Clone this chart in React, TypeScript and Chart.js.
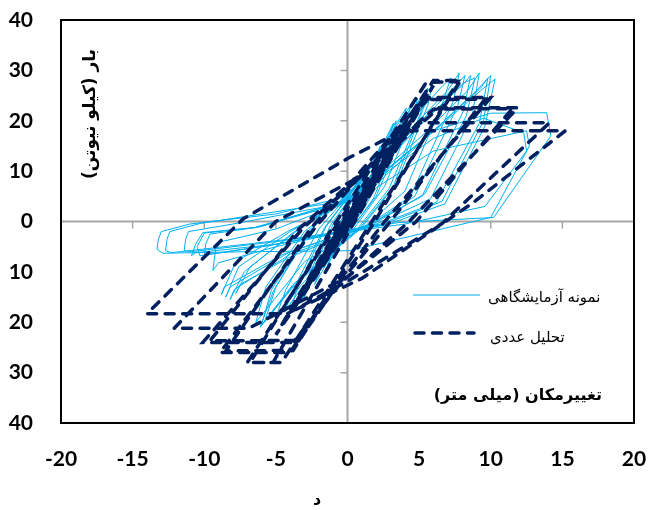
import React, { useEffect, useRef } from 'react';
import { Chart, registerables } from 'chart.js';

Chart.register(...registerables);

// Axis ranges and ticks
const xMin = -20;
const xMax = 20;
const xStep = 5;
const yMin = -40;
const yMax = 40;
const yStep = 10;

// Texts
const yTitle = 'بار (کیلو نیوتن)';
const xTitle = 'تغییرمکان (میلی متر)';
const bottomTitle = 'د';
const expLabel = 'نمونه آزمایشگاهی';
const numLabel = 'تحلیل عددی';

// Experimental specimen (displacement mm, load kN), one line per cycle
const expDisp = [
  0, 0.5, 1.0, 0.7, 0.1, -0.4, -0.9, -0.6, 0,
  0.7, 1.6, 1.2, 0.3, -0.5, -1.5, -1.1, -0.2,
  1, 2.3, 1.9, 0.6, -0.7, -2.3, -1.9, -0.6,
  0.9, 2.6, 3.2, 2.8, 1.2, -0.7, -2.5, -3.1, -2.6, -1,
  0.8, 2.7, 3.4, 3.0, 1.4, -0.6, -2.7, -3.3, -2.8, -1.2,
  1, 3, 4.1, 3.7, 1.8, -0.5, -3, -4, -3.4, -1.5,
  0.9, 3.2, 4.4, 4.0, 2.0, -0.4, -3.3, -4.4, -3.7, -1.6,
  1, 3.6, 4.9, 4.5, 2.6, 0.3, -3.2, -5, -4.3, -2,
  0.6, 4, 5.6, 5.3, 3.2, 0.8, -3.6, -5.8, -5, -2.5,
  0.5, 4.1, 5.9, 5.6, 3.4, 0.9, -3.8, -6.0, -5.3, -2.6,
  0.4, 3.8, 5.4, 5.1, 2.9, 0.6, -3.8, -6.1, -5.2, -2.7,
  0.2, 4.3, 6.5, 7.2, 6.7, 4, 1.2, -3, -6.4, -5.7, -3,
  0, 4.6, 7, 7.8, 7.4, 4.4, 1.3, -4, -7.5, -7.8, -6.8, -3.6,
  0.3, 4.8, 7.4, 8.2, 7.7, 4.7, 1.4, -4, -7.9, -8.2, -7.2, -3.8,
  0.4, 5, 8, 8.6, 8.1, 5.2, 1.6, -4, -8.2, -8.5, -7.6, -4,
  0.6, 5.2, 8.1, 8.9, 8.3, 5.4, 1.8, -4.5, -8.6, -8.8, -7.8, -4.2,
  0, 5.2, 8.4, 9.2, 8.7, 5.8, 2, -5, -9.0, -9.4, -9.2, -8.8, -5,
  0, 6, 9, 10, 9.5, 6.6, 2.6, -5, -9.6, -10, -9.9, -9.6, -6,
  0.2, 6.3, 9.3, 10.3, 9.6, 6.8, 2.8, -5.5, -10.3, -10.5, -10, -6.4,
  0.2, 6.2, 9.3, 9.8, 9.2, 6.2, 2.3, -5, -10.6, -10.9, -10.6, -10.1, -6.5,
  0, 6, 9.5, 12.3, 12.5, 9.6, 4, -5, -10.9, -11.4, -11.3, -11.1, -8,
  0.8, 6, 10, 13.9, 14.2, 10.2, 3.6, -4, -12.3, -12.7, -12.6, -12.4, -10.3,
  0.8, 6, 12.5, 12.7, 10, 0.1, -7, -12.9, -13.3, -13.2, -13, -11, -5, 0,
];
const expLoad = [
  0, 3.5, 7, 5, 1, -2.5, -6, -4, -0.5,
  5, 11, 8, 1.5, -3.5, -9.5, -6.5, 0,
  7, 15, 11, 2, -4.5, -12.5, -9.5, -0.5,
  7, 16, 19.5, 15, 3.5, -5, -12, -15.5, -11, -0.5,
  7, 16.5, 20, 15.5, 3.8, -5, -12.5, -16, -11.5, -0.8,
  8, 17.5, 22.5, 18, 4.5, -4.5, -13, -17.5, -12.5, -1,
  8, 18, 23, 18.5, 5, -4, -13.5, -18, -13, -1.2,
  8.5, 19, 24.5, 20.5, 7, -2, -12.5, -19, -13.5, -1.5,
  7, 20, 26.5, 22.5, 7, -1.5, -12, -20, -13, -1.5,
  7, 20.5, 27, 23, 7.5, -1.5, -12.5, -20.5, -13.5, -1.8,
  6.5, 19, 25.5, 21.5, 6.5, -1.8, -13, -21, -14, -1.8,
  6, 19.5, 26.5, 28.5, 24, 6, -1, -8, -20, -13, -2,
  5, 19, 26, 29.5, 24, 5, -1, -7, -12.5, -14.3, -9, -2,
  5, 19, 26.5, 29, 23, 5, -1, -6.5, -13.5, -15.5, -10, -2.2,
  5.5, 19, 27, 29, 22, 5, -0.5, -6, -13, -15, -9, -2,
  5.5, 19.5, 27.5, 28.5, 21, 5.5, -0.5, -6.5, -13, -14.5, -8, -2,
  4, 17, 26, 29.5, 21, 4.5, -0.5, -5, -8.2, -9.7, -5.5, -4, -1.5,
  4, 18, 26, 29, 20, 4, -0.5, -4.5, -6.5, -7, -4.5, -2.5, -1,
  4.5, 18.5, 26, 28.3, 19, 3.5, -0.6, -4.8, -6.8, -5, -2.3, -1.2,
  4, 18.5, 26.5, 28.5, 19.5, 3.8, -0.5, -4.5, -6.2, -6.8, -4.5, -2.2, -1.2,
  4.2, 16.5, 20.5, 17.6, 14, 3, -0.5, -4, -6, -5.8, -3.5, -2, -0.5,
  4.2, 18, 21.5, 21.6, 17, 0.8, -0.2, -3.5, -6.2, -5.8, -3.5, -2, -0.4,
  4.5, 14, 18, 15, 0.8, -5.8, -6, -6.3, -5.5, -3.5, -2, -0.5, 1.5, 5,
];

// Numerical analysis (displacement mm, load kN)
const numDisp = [
  0, 1, -1, 2, 0.2, -2, -0.2, 3, 0.3, -3, -0.3,
  4, 0.4, -4, -0.4, 5, 0.5, -5, -0.5, 6,
  -5.2, -7, -0.6, 6, 7.9,
  1.7, -4.6, -6.8, -1, 5.5, 7.7,
  1.9, -4, -8.9, -2.2, 5.7, 10,
  2.6, -1.2, -3.8, -8.5, -2.6, 5.3, 9.6,
  3, -0.8, -3.5, -10.1, -3, 6.4, 11.9,
  4.3, -0.4, -3.7, -9.6, -3.4, 6, 11.5,
  4.8, 0, -6.9, -12.1, -5, 0.6, 5, 14.1,
  6.6, 0.1, -4.2, -14, -7.3, 0, 3.8, 15.2,
  8.7, 1, -4,
];
const numLoad = [
  0, 4.5, -4.5, 9, 0.5, -9, -0.5, 13.5, 0.5, -13.5, -0.5,
  18, 0.5, -18, -0.5, 22.5, 0.5, -22.5, -0.5, 27,
  -28, -28, 0, 28, 28,
  0, -28, -28, -1, 27.6, 27.8,
  0, -26, -26, -1, 24.6, 24.6,
  0, -14, -25.6, -25.7, -1.5, 24.2, 24.3,
  0, -13, -24, -24, -1, 22.6, 22.6,
  0, -12, -23.6, -23.7, -1.5, 22.3, 22.4,
  0, -11, -21.2, -21.2, 0, 8.5, 19.6, 19.6,
  -0.4, -11.7, -18.3, -18.3, 0.5, 12.5, 18, 18,
  3.6, -11.3, -18,
];

const expColor = '#00B0F0';
const numColor = '#002060';
const persianFont = '"DejaVu Sans", sans-serif';

const TITLE_SIZE = 16;
const TITLE_PAD_TOP = 4;
const PLOT_BOTTOM = 423;
const PLOT_LEFT = 61;

const decorPlugin = {
  id: 'decor',
  beforeDatasetsDraw(chart: any) {
    const { ctx, chartArea: a, scales } = chart;
    const xs = scales.x;
    const ys = scales.y;
    const x0 = xs.getPixelForValue(0);
    const y0 = ys.getPixelForValue(0);
    ctx.save();
    ctx.strokeStyle = '#a6a6a6';
    ctx.lineWidth = 2;
    ctx.beginPath();
    ctx.moveTo(a.left, y0);
    ctx.lineTo(a.right, y0);
    ctx.moveTo(x0, a.top);
    ctx.lineTo(x0, a.bottom);
    ctx.stroke();
    ctx.lineWidth = 1.5;
    ctx.beginPath();
    for (let v = xMin; v <= xMax; v += xStep) {
      const px = xs.getPixelForValue(v);
      ctx.moveTo(px, y0);
      ctx.lineTo(px, y0 + 7);
    }
    for (let v = yMin; v <= yMax; v += yStep) {
      const py = ys.getPixelForValue(v);
      ctx.moveTo(x0 - 7, py);
      ctx.lineTo(x0, py);
    }
    ctx.stroke();
    ctx.restore();
  },
  afterDatasetsDraw(chart: any) {
    const { ctx, chartArea: a } = chart;
    ctx.save();
    // plot border
    ctx.strokeStyle = '#000';
    ctx.lineWidth = 2;
    ctx.strokeRect(a.left, a.top, a.right - a.left, a.bottom - a.top);

    ctx.direction = 'rtl';
    ctx.fillStyle = '#000';
    ctx.textBaseline = 'middle';

    // y title (rotated, inside plot)
    ctx.save();
    ctx.translate(a.left + 30, a.top + 94);
    ctx.rotate(-Math.PI / 2);
    ctx.font = `bold 17px ${persianFont}`;
    ctx.textAlign = 'center';
    ctx.fillText(yTitle, 0, 0);
    ctx.restore();

    // x title (inside plot, bottom right)
    ctx.font = `bold 16px ${persianFont}`;
    ctx.textAlign = 'right';
    ctx.fillText(xTitle, a.right - 32, a.bottom - 27);

    // legend
    const lx1 = a.right - 221;
    const lx2 = a.right - 154;
    const ly1 = a.top + 275;
    const ly2 = a.top + 313;
    ctx.setLineDash([]);
    ctx.strokeStyle = expColor;
    ctx.lineWidth = 1;
    ctx.beginPath();
    ctx.moveTo(lx1, ly1);
    ctx.lineTo(lx2, ly1);
    ctx.stroke();
    ctx.strokeStyle = numColor;
    ctx.lineWidth = 3.5;
    ctx.lineCap = 'round';
    ctx.setLineDash([9, 8.5]);
    ctx.beginPath();
    ctx.moveTo(lx1 + 2, ly2);
    ctx.lineTo(lx2 - 6, ly2);
    ctx.stroke();
    ctx.setLineDash([]);
    ctx.font = `15px ${persianFont}`;
    ctx.textAlign = 'left';
    ctx.fillText(expLabel, lx2 + 8, ly1 + 3);
    ctx.fillText(numLabel, lx2 + 10, ly2 + 5);
    ctx.restore();
  },
};

export default function App() {
  const canvasRef = useRef<HTMLCanvasElement | null>(null);

  useEffect(() => {
    const canvas = canvasRef.current;
    if (!canvas) return;
    const expData = expDisp.map((x, i) => ({ x, y: expLoad[i] }));
    const numData = numDisp.map((x, i) => ({ x, y: numLoad[i] }));
    const tickFont = { family: 'Lato', size: 21, weight: 'bold' as const };
    const titleHeight = TITLE_SIZE * 1.2 + TITLE_PAD_TOP;

    const chart = new Chart(canvas, {
      type: 'scatter',
      data: {
        datasets: [
          {
            label: expLabel,
            data: expData,
            showLine: true,
            borderColor: expColor,
            backgroundColor: expColor,
            borderWidth: 1,
            pointRadius: 0,
            tension: 0,
            order: 2,
          },
          {
            label: numLabel,
            data: numData,
            showLine: true,
            borderColor: numColor,
            backgroundColor: numColor,
            borderWidth: 3.5,
            borderDash: [9, 8.5],
            borderCapStyle: 'round',
            pointRadius: 0,
            tension: 0,
            order: 1,
          },
        ],
      },
      options: {
        responsive: false,
        animation: false,
        devicePixelRatio: 1,
        layout: { padding: { left: 0, right: 15, top: 20, bottom: 0 } },
        plugins: {
          legend: { display: false },
          tooltip: { enabled: false },
          title: {
            display: true,
            position: 'bottom',
            text: bottomTitle,
            color: '#000',
            font: { family: 'DejaVu Sans', size: TITLE_SIZE, weight: 'bold', lineHeight: 1.2 },
            padding: { top: TITLE_PAD_TOP, bottom: 0 },
          },
        },
        scales: {
          x: {
            type: 'linear',
            min: xMin,
            max: xMax,
            grid: { display: false, drawTicks: false },
            border: { display: false },
            ticks: {
              stepSize: xStep,
              color: '#000',
              font: tickFont,
              padding: 24,
            },
            afterFit: (s: any) => {
              s.height = 510 - PLOT_BOTTOM - titleHeight;
              s.paddingLeft = 0;
              s.paddingRight = 0;
            },
          },
          y: {
            type: 'linear',
            min: yMin,
            max: yMax,
            grid: { display: false, drawTicks: false },
            border: { display: false },
            ticks: {
              stepSize: yStep,
              color: '#000',
              font: tickFont,
              padding: 28,
              callback: (v: any) => String(Math.abs(Number(v))),
            },
            afterFit: (s: any) => {
              s.width = PLOT_LEFT;
              s.paddingTop = 0;
              s.paddingBottom = 0;
            },
          },
        },
      },
      plugins: [decorPlugin],
    });
    return () => chart.destroy();
  }, []);

  return (
    <div style={{ position: 'fixed', left: 0, top: 0, width: 649, height: 510, background: '#fff' }}>
      <canvas ref={canvasRef} width={649} height={510} style={{ display: 'block' }} />
    </div>
  );
}
